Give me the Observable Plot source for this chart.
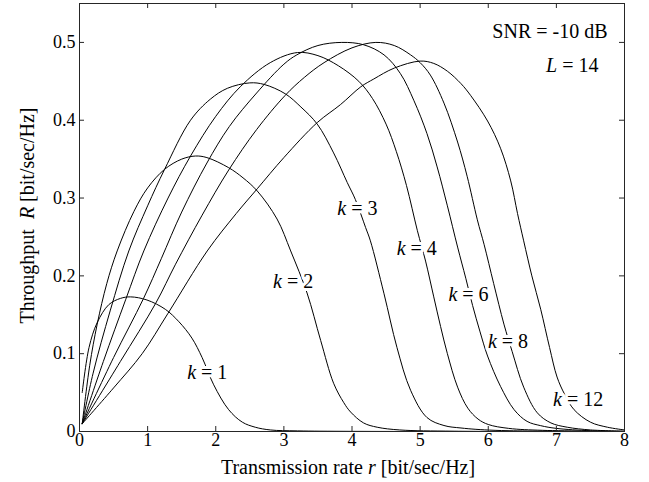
<!DOCTYPE html>
<html>
<head>
<meta charset="utf-8">
<script src="https://cdn.jsdelivr.net/npm/d3@7"></script>
<script src="https://cdn.jsdelivr.net/npm/@observablehq/plot@0.6"></script>
<style>
  html, body { margin: 0; padding: 0; background: #fff; }
  svg, svg text, svg tspan { font-family: "Liberation Serif", "DejaVu Serif", serif !important; }
  svg text { white-space: pre; }
</style>
</head>
<body>
<div id="chart"></div>
<script>
// ---- data ----
const xTicks = [0, 1, 2, 3, 4, 5, 6, 7, 8];
const yTicks = [0, 0.1, 0.2, 0.3, 0.4, 0.5];
const kValues = [1, 2, 3, 4, 6, 8, 12];

const k1 = [[0.04,0.05],[0.14,0.108],[0.26,0.14],[0.43,0.163],[0.6,0.171],[0.75,0.173],[0.99,0.169],[1.26,0.157],[1.46,0.141],[1.65,0.12],[1.8,0.095],[1.97,0.06],[2.19,0.028],[2.39,0.012],[2.58,0.0055],[2.8,0.002],[3.2,0.0008],[4,0.0002],[8,0]];
const k2 = [[0.04,0.01],[0.15,0.085],[0.26,0.138],[0.4,0.19],[0.553,0.232],[0.8,0.283],[1.0,0.313],[1.25,0.337],[1.5,0.35],[1.7,0.354],[1.87,0.352],[2.19,0.339],[2.4,0.326],[2.61,0.309],[2.9,0.273],[3.1,0.232],[3.34,0.178],[3.54,0.117],[3.73,0.062],[3.88,0.037],[3.98,0.025],[4.17,0.011],[4.37,0.0055],[4.7,0.002],[5.5,0.0004],[8,0]];
const k3 = [[0.04,0.01],[0.2,0.075],[0.45,0.155],[0.724,0.232],[1.0,0.29],[1.25,0.337],[1.63,0.4],[1.92,0.427],[2.17,0.441],[2.5,0.448],[2.71,0.446],[3.02,0.434],[3.25,0.417],[3.49,0.395],[3.73,0.358],[3.93,0.32],[4.05,0.298],[4.2,0.262],[4.27,0.245],[4.47,0.177],[4.66,0.108],[4.86,0.053],[5.1,0.018],[5.35,0.0077],[5.6,0.0045],[6.1,0.0015],[8,0]];
const k4 = [[0.04,0.01],[0.35,0.09],[0.68,0.17],[0.944,0.232],[1.3,0.3],[1.63,0.354],[2.0,0.405],[2.36,0.443],[2.8,0.474],[3.2,0.487],[3.5,0.483],[3.8,0.47],[4.1,0.45],[4.3,0.428],[4.5,0.395],[4.65,0.36],[4.8,0.316],[4.96,0.258],[5.08,0.219],[5.2,0.173],[5.3,0.135],[5.4,0.1],[5.55,0.057],[5.7,0.03],[5.85,0.016],[6.0,0.009],[6.3,0.004],[6.8,0.0015],[8,0]];
const k6 = [[0.04,0.01],[0.5,0.095],[0.94,0.171],[1.2,0.222],[1.5,0.282],[1.87,0.345],[2.2,0.392],[2.6,0.435],[3.0,0.472],[3.19,0.484],[3.5,0.496],[3.85,0.5],[4.17,0.497],[4.47,0.484],[4.71,0.46],[4.91,0.425],[5.1,0.383],[5.25,0.34],[5.4,0.29],[5.55,0.237],[5.67,0.197],[5.77,0.162],[5.88,0.128],[5.99,0.097],[6.18,0.058],[6.38,0.028],[6.57,0.013],[6.77,0.0075],[7.0,0.004],[7.5,0.001],[8,0]];
const k8 = [[0.04,0.01],[0.6,0.09],[1.12,0.165],[1.41,0.215],[1.8,0.278],[2.19,0.336],[2.6,0.388],[3.02,0.432],[3.3,0.455],[3.59,0.474],[4.0,0.493],[4.35,0.5],[4.62,0.496],[4.86,0.484],[5.0,0.474],[5.15,0.458],[5.35,0.422],[5.55,0.372],[5.69,0.328],[5.84,0.272],[5.94,0.24],[6.08,0.19],[6.23,0.138],[6.35,0.103],[6.52,0.057],[6.72,0.024],[6.92,0.011],[7.16,0.0055],[7.5,0.002],[8,0.0005]];
const k12 = [[0.04,0.01],[0.5,0.056],[0.92,0.1],[1.3,0.152],[1.875,0.232],[2.3,0.28],[2.61,0.312],[3.0,0.352],[3.49,0.397],[3.83,0.42],[4.13,0.443],[4.32,0.453],[4.62,0.467],[5.0,0.476],[5.2,0.473],[5.4,0.463],[5.6,0.447],[5.74,0.432],[5.99,0.399],[6.18,0.364],[6.33,0.322],[6.43,0.28],[6.52,0.245],[6.64,0.2],[6.77,0.157],[6.9,0.108],[7.01,0.07],[7.12,0.048],[7.26,0.028],[7.5,0.012],[7.75,0.0055],[8,0.002]];

// curve label anchors (rate, throughput)
const labelRate = [1.875, 3.135, 4.08, 4.95, 5.71, 6.29, 7.32];
const labelThroughput = [0.076, 0.193, 0.286, 0.235, 0.176, 0.116, 0.041];

const xLabel = "Transmission rate *r* [bit/sec/Hz]";
const yLabel = "Throughput  *R* [bit/sec/Hz]";
const noteSNR = "SNR = -10 dB";
const noteL = "*L* = 14";

// ---- tables built from the arrays ----
const curves = [k1, k2, k3, k4, k6, k8, k12];
const rows = kValues.flatMap((k, i) => curves[i].map(([r, R]) => ({k, r, R})));
const labels = kValues.map((k, i) => ({k, r: labelRate[i], R: labelThroughput[i], text: `*k* = ${k}`}));

// ---- layout ----
const W = 649, H = 482;
const mL = 79, mR = 25, mT = 3, mB = 51;
const plotH = H - mT - mB, plotW = W - mL - mR;
const tickLen = 5;
const axisColor = "#262626";
const serif = "Liberation Serif";
const fmtY = d => d === 0 ? "0" : d.toFixed(1);

const chart = Plot.plot({
  width: W, height: H,
  marginLeft: mL, marginRight: mR, marginTop: mT, marginBottom: mB,
  x: {domain: [0, 8]},
  y: {domain: [0, 0.55]},
  style: {fontFamily: serif, background: "#fff", color: "#000"},
  marks: [
    Plot.line(rows, {x: "r", y: "R", z: "k", stroke: "#000", strokeWidth: 1, curve: "catmull-rom"}),
    Plot.text(labels, {x: "r", y: "R", text: "text", fontSize: 20, fontFamily: serif, fill: "#000",
      stroke: "#fff", strokeWidth: 6, textAnchor: "middle", lineAnchor: "middle"}),
    Plot.text([noteSNR], {frameAnchor: "top-right", dx: -17, dy: 28, text: d => d, fontSize: 20, fontFamily: serif,
      textAnchor: "end", lineAnchor: "middle", fill: "#000"}),
    Plot.text([noteL], {frameAnchor: "top-right", dx: -26, dy: 62, text: d => d, fontSize: 20, fontFamily: serif,
      textAnchor: "end", lineAnchor: "middle", fill: "#000"}),
    Plot.frame({stroke: axisColor, strokeWidth: 1}),
    Plot.tickX(xTicks, {x: d => d, insetTop: plotH - tickLen, stroke: axisColor}),
    Plot.tickX(xTicks, {x: d => d, insetBottom: plotH - tickLen, stroke: axisColor}),
    Plot.tickY(yTicks, {y: d => d, insetRight: plotW - tickLen, stroke: axisColor}),
    Plot.tickY(yTicks, {y: d => d, insetLeft: plotW - tickLen, stroke: axisColor}),
    Plot.axisX(xTicks, {tickSize: 0, tickPadding: 2, fontSize: 18, fontFamily: serif, label: null, tickFormat: d => String(d)}),
    Plot.axisY(yTicks, {tickSize: 0, tickPadding: 4, fontSize: 18, fontFamily: serif, label: null, tickFormat: fmtY}),
    Plot.text([xLabel], {frameAnchor: "bottom", dx: -4, dy: 36, text: d => d, fontSize: 20, fontFamily: serif,
      textAnchor: "middle", lineAnchor: "middle", fill: "#000"}),
    Plot.text([yLabel], {frameAnchor: "left", dx: -52, dy: -2, rotate: -90, text: d => d, fontSize: 20, fontFamily: serif,
      textAnchor: "middle", lineAnchor: "middle", fill: "#000"})
  ]
});

// italic segments marked with *...*
chart.querySelectorAll("text").forEach(t => {
  const s = t.textContent;
  if (!s.includes("*")) return;
  t.textContent = "";
  s.split("*").forEach((part, i) => {
    if (!part) return;
    const ts = document.createElementNS("http://www.w3.org/2000/svg", "tspan");
    if (i % 2 === 1) ts.setAttribute("font-style", "italic");
    ts.textContent = part;
    t.appendChild(ts);
  });
});

document.getElementById("chart").appendChild(chart);
</script>
</body>
</html>
